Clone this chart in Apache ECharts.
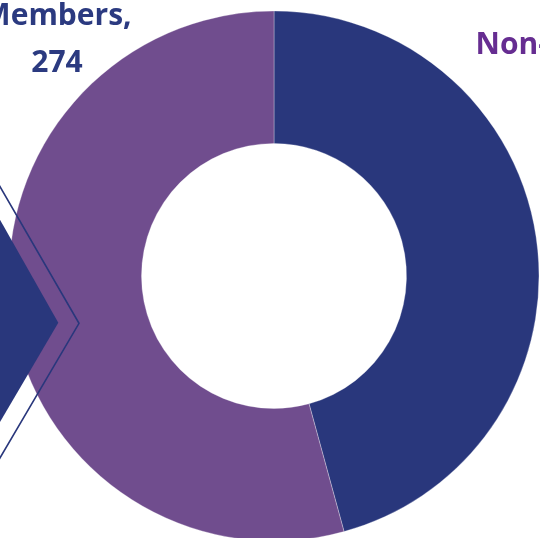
<!DOCTYPE html>
<html>
<head>
<meta charset="utf-8">
<script src="https://cdn.jsdelivr.net/npm/echarts@6/dist/echarts.min.js"></script>
<style>
html,body{margin:0;padding:0;background:#fff;}
#chart{width:540px;height:538px;}
</style>
</head>
<body>
<div id="chart"></div>
<script>
const categories = ['Members', 'Non-members'];
const values = [274, 325];
const sliceColors = ['#29377C', '#704D8E'];
const labelColors = ['#2B3A80', '#662D91'];

const chart = echarts.init(document.getElementById('chart'), null, {renderer: 'canvas'});

const labelSpots = [
  {x: 57, y: 39.5},
  {x: 587, y: 68.5}
];

chart.setOption({
  animation: false,
  backgroundColor: '#ffffff',
  series: [{
    type: 'pie',
    center: [274, 276],
    radius: [132.5, 265],
    startAngle: 90,
    clockwise: true,
    avoidLabelOverlap: false,
    silent: true,
    itemStyle: {borderColor: 'rgba(255,255,255,0.5)', borderWidth: 0.6},
    label: {
      show: true,
      position: 'outside',
      formatter: '{b},\n{c}',
      fontFamily: 'Open Sans',
      fontWeight: 'bold',
      fontSize: 30,
      lineHeight: 47,
      align: 'center'
    },
    labelLine: {show: false},
    labelLayout: function (params) {
      const s = labelSpots[params.dataIndex];
      return {x: s.x, y: s.y, align: 'center', verticalAlign: 'middle', hideOverlap: false};
    },
    data: categories.map((c, i) => ({
      name: c,
      value: values[i],
      itemStyle: {color: sliceColors[i]},
      label: {color: labelColors[i]}
    }))
  }],
  graphic: [
    {
      type: 'polygon',
      z: 100,
      shape: {points: [[-20, 184.5], [58.3, 322.7], [-20, 456]]},
      style: {fill: '#29377C'}
    },
    {
      type: 'polyline',
      z: 100,
      shape: {points: [[-20, 152], [79, 323.3], [-20, 492]]},
      style: {stroke: '#29377C', lineWidth: 1.6, fill: null}
    }
  ]
});
</script>
</body>
</html>
